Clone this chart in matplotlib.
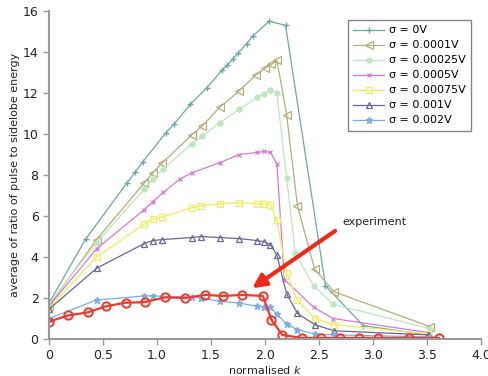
import matplotlib
matplotlib.use("Agg")
import matplotlib.pyplot as plt

# sigma = 0V
x0 = [0.0, 0.34, 0.72, 0.80, 0.87, 1.08, 1.16, 1.31, 1.46, 1.60, 1.65, 1.70, 1.75, 1.83, 1.89, 2.04, 2.19, 2.56, 2.91, 3.51]
y0 = [1.75, 4.88, 7.6, 8.15, 8.65, 10.05, 10.5, 11.45, 12.25, 13.1, 13.35, 13.65, 13.95, 14.4, 14.8, 15.5, 15.3, 2.6, 0.65, 0.2]
# sigma = 0.0001V
x1 = [0.0, 0.44, 0.88, 0.96, 1.05, 1.32, 1.42, 1.58, 1.76, 1.92, 2.0, 2.06, 2.11, 2.20, 2.30, 2.46, 2.64, 3.53]
y1 = [1.6, 4.85, 7.6, 8.1, 8.6, 9.95, 10.4, 11.3, 12.1, 12.9, 13.2, 13.4, 13.6, 10.95, 6.5, 3.4, 2.3, 0.6]
# sigma = 0.00025V
x2 = [0.0, 0.44, 0.88, 0.96, 1.06, 1.32, 1.42, 1.58, 1.76, 1.93, 1.99, 2.05, 2.11, 2.20, 2.28, 2.45, 2.63, 3.53]
y2 = [1.7, 4.7, 7.3, 7.8, 8.3, 9.5, 9.9, 10.55, 11.2, 11.8, 11.95, 12.15, 12.0, 7.85, 4.2, 2.6, 1.7, 0.5]
# sigma = 0.0005V
x3 = [0.0, 0.44, 0.88, 0.96, 1.06, 1.21, 1.32, 1.58, 1.76, 1.93, 1.99, 2.05, 2.11, 2.18, 2.45, 2.63, 3.53]
y3 = [1.6, 4.4, 6.3, 6.7, 7.15, 7.8, 8.1, 8.6, 9.0, 9.1, 9.15, 9.1, 8.55, 2.9, 1.55, 1.0, 0.3]
# sigma = 0.00075V
x4 = [0.0, 0.44, 0.88, 0.96, 1.05, 1.32, 1.41, 1.58, 1.76, 1.93, 1.99, 2.05, 2.11, 2.20, 2.30, 2.46, 2.64, 3.51]
y4 = [1.5, 4.0, 5.6, 5.85, 5.95, 6.4, 6.5, 6.6, 6.65, 6.6, 6.6, 6.55, 5.8, 3.2, 1.9, 1.0, 0.7, 0.25]
# sigma = 0.001V
x5 = [0.0, 0.44, 0.88, 0.96, 1.05, 1.32, 1.41, 1.58, 1.76, 1.93, 1.99, 2.05, 2.11, 2.20, 2.30, 2.46, 2.64, 3.51]
y5 = [1.45, 3.45, 4.65, 4.8, 4.85, 4.95, 5.0, 4.95, 4.9, 4.8, 4.75, 4.6, 4.1, 2.2, 1.25, 0.7, 0.4, 0.2]
# sigma = 0.002V
x6 = [0.0, 0.44, 0.88, 0.96, 1.32, 1.41, 1.58, 1.76, 1.93, 1.99, 2.05, 2.11, 2.20, 2.30, 2.46, 2.64, 3.53]
y6 = [1.0, 1.9, 2.1, 2.1, 2.05, 2.0, 1.85, 1.75, 1.6, 1.55, 1.55, 1.2, 0.75, 0.45, 0.25, 0.2, 0.1]
# experiment
xe = [0.0, 0.18, 0.36, 0.53, 0.71, 0.89, 1.07, 1.26, 1.44, 1.61, 1.79, 1.98, 2.06, 2.16, 2.34, 2.52, 2.69, 2.87, 3.05, 3.33, 3.61]
ye = [0.85, 1.15, 1.3, 1.6, 1.77, 1.8, 2.03, 2.0, 2.15, 2.1, 2.15, 2.1, 0.93, 0.2, 0.05, 0.05, 0.05, 0.05, 0.05, 0.05, 0.05]

labels = ['σ = 0V', 'σ = 0.0001V', 'σ = 0.00025V', 'σ = 0.0005V',
          'σ = 0.00075V', 'σ = 0.001V', 'σ = 0.002V']

fig = plt.figure(figsize=(4.88, 3.76), dpi=100)
ax = fig.add_axes([0.1004, 0.0984, 0.8853, 0.8723])

ax.plot(x0, y0, color='#6fa6a6', marker='+', ms=5, mew=1, lw=0.9, label=labels[0])
ax.plot(x1, y1, color='#b3ae7a', marker='<', ms=5.5, mfc='none', mew=0.9, lw=0.9, label=labels[1])
ax.plot(x2, y2, color='#bfe6bf', marker='o', ms=3.5, mec='#bfe6bf', lw=0.9, label=labels[2])
ax.plot(x3, y3, color='#d67ad6', marker='x', ms=2.5, mew=0.9, lw=0.9, label=labels[3])
ax.plot(x4, y4, color='#f0ec5a', marker='s', ms=5, mfc='none', mew=0.9, lw=0.9, label=labels[4])
ax.plot(x5, y5, color='#6a6796', marker='^', ms=5, mfc='none', mew=0.9, lw=0.9, label=labels[5])
ax.plot(x6, y6, color='#7aaee3', marker='*', ms=4.5, lw=0.9, label=labels[6])
ax.plot(xe, ye, color='#ee3a2c', marker='o', ms=6, mfc='none', mew=1.4, lw=1.6)

ax.annotate('', xy=(1.86, 2.4), xytext=(2.67, 5.35),
            arrowprops=dict(arrowstyle='-|>,head_length=0.8,head_width=0.4',
                            color='#ee2a1a', lw=3))
ax.text(2.72, 5.7, 'experiment', fontsize=8, color='#222222', va='center')

ax.set_xlim(0, 4.0)
ax.set_ylim(0, 16)
ax.set_xticks([0, 0.5, 1.0, 1.5, 2.0, 2.5, 3.0, 3.5, 4.0])
ax.set_xticklabels(['0', '0.5', '1.0', '1.5', '2.0', '2.5', '3.0', '3.5', '4.0'])
ax.set_yticks(range(0, 17, 2))
for s in ['top', 'right']:
    ax.spines[s].set_visible(False)
for s in ['left', 'bottom']:
    ax.spines[s].set_color('#999999')
    ax.spines[s].set_linewidth(1.5)
ax.tick_params(colors='#999999', labelcolor='#222222', labelsize=9, length=4, width=1)
ax.set_xlabel('normalised $k$', fontsize=8, color='#222222', labelpad=1)
ax.set_ylabel('average of ratio of pulse to sidelobe energy', fontsize=8, color='#222222', labelpad=2)

leg = ax.legend(loc='upper right', bbox_to_anchor=(0.99, 0.99), fontsize=8,
                fancybox=False, edgecolor='#666666', handlelength=2.8,
                borderpad=0.5, labelspacing=0.45, handletextpad=0.4)
leg.get_frame().set_linewidth(1.0)

fig.savefig('out.png', dpi=100)
